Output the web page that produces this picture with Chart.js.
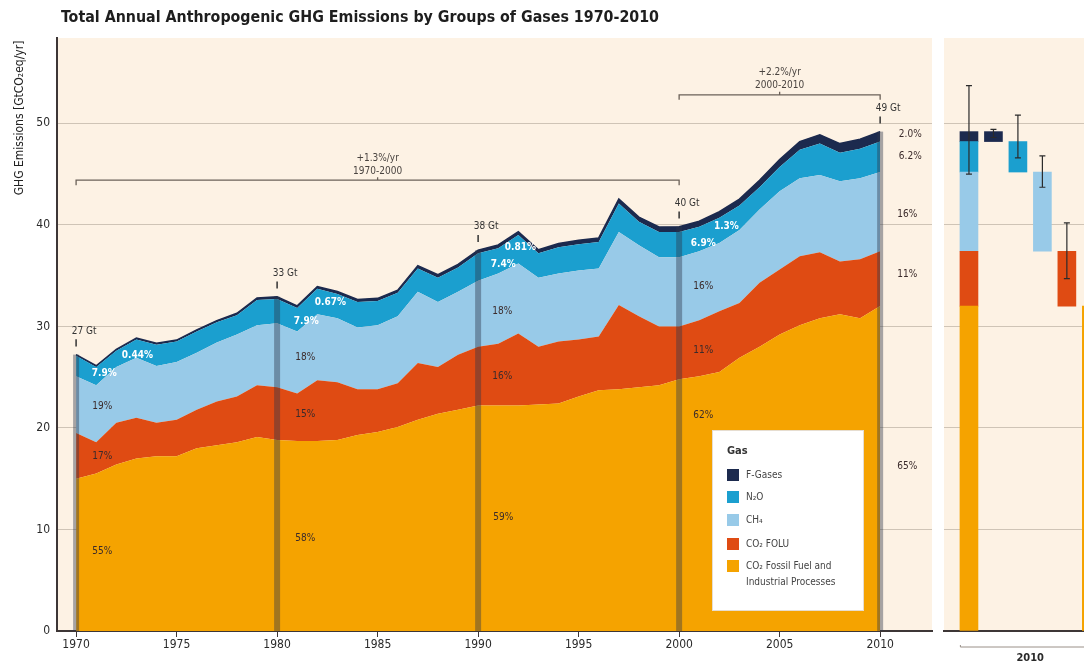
<!DOCTYPE html>
<html>
<head>
<meta charset="utf-8">
<script src="https://cdn.jsdelivr.net/npm/chart.js@4.4.1/dist/chart.umd.min.js"></script>
<style>
  body { margin: 0; background: #fff; width: 1084px; height: 665px; overflow: hidden; position: relative; }
  #main { position: absolute; left: 0; top: 0; }
  #panel { position: absolute; left: 936px; top: 0; }
</style>
</head>
<body>
<canvas id="main" width="936" height="665"></canvas>
<canvas id="panel" width="148" height="665"></canvas>
<script>
// values, GtCO2eq/yr
const years = [1970, 1971, 1972, 1973, 1974, 1975, 1976, 1977, 1978, 1979,
               1980, 1981, 1982, 1983, 1984, 1985, 1986, 1987, 1988, 1989,
               1990, 1991, 1992, 1993, 1994, 1995, 1996, 1997, 1998, 1999,
               2000, 2001, 2002, 2003, 2004, 2005, 2006, 2007, 2008, 2009, 2010];

const co2Ffi = [15.0, 15.5, 16.4, 17.0, 17.2, 17.2, 18.0, 18.3, 18.6, 19.1,
                18.8, 18.7, 18.7, 18.8, 19.3, 19.6, 20.1, 20.8, 21.4, 21.8,
                22.2, 22.2, 22.2, 22.3, 22.4, 23.1, 23.7, 23.8, 24.0, 24.2,
                24.8, 25.1, 25.5, 26.9, 28.0, 29.2, 30.1, 30.8, 31.2, 30.8, 32.0];

const co2Folu = [4.5, 3.1, 4.1, 4.0, 3.3, 3.6, 3.8, 4.3, 4.5, 5.1,
                 5.2, 4.7, 6.0, 5.7, 4.5, 4.2, 4.3, 5.6, 4.6, 5.4,
                 5.8, 6.1, 7.1, 5.7, 6.1, 5.6, 5.3, 8.3, 7.0, 5.8,
                 5.2, 5.5, 6.0, 5.4, 6.3, 6.4, 6.8, 6.5, 5.2, 5.8, 5.4];

const ch4 = [5.6, 5.6, 5.5, 5.9, 5.6, 5.7, 5.6, 5.8, 6.1, 5.9,
             6.3, 6.1, 6.5, 6.3, 6.1, 6.3, 6.6, 7.0, 6.4, 6.2,
             6.5, 6.9, 6.9, 6.8, 6.7, 6.8, 6.7, 7.2, 7.0, 6.8,
             6.8, 6.8, 6.7, 7.2, 7.2, 7.7, 7.7, 7.6, 7.9, 8.0, 7.8];

const n2o = [2.0, 1.8, 1.6, 1.8, 2.1, 2.0, 2.1, 2.0, 1.9, 2.5,
             2.4, 2.3, 2.5, 2.4, 2.5, 2.4, 2.3, 2.3, 2.4, 2.4,
             2.7, 2.5, 2.8, 2.4, 2.6, 2.6, 2.6, 2.8, 2.3, 2.5,
             2.5, 2.4, 2.5, 2.4, 2.2, 2.4, 2.8, 3.1, 2.8, 2.9, 3.0];

const fGases = [0.12, 0.12, 0.13, 0.14, 0.14, 0.15, 0.16, 0.17, 0.19, 0.20,
                0.22, 0.22, 0.23, 0.24, 0.25, 0.26, 0.27, 0.28, 0.29, 0.30,
                0.31, 0.32, 0.33, 0.34, 0.36, 0.38, 0.41, 0.44, 0.46, 0.49,
                0.52, 0.55, 0.59, 0.63, 0.68, 0.74, 0.80, 0.86, 0.90, 0.93, 0.98];

const gasNames = ['CO₂ Fossil Fuel and Industrial Processes', 'CO₂ FOLU', 'CH₄', 'N₂O', 'F-Gases'];
const gasSeries = [co2Ffi, co2Folu, ch4, n2o, fGases];
const gasColors = ['#f5a300', '#df4b13', '#98cae8', '#1b9fcf', '#1c2a4e'];

const xTickYears = [1970, 1975, 1980, 1985, 1990, 1995, 2000, 2005, 2010];
const yTickValues = [0, 10, 20, 30, 40, 50];

const markerYears = [1970, 1980, 1990, 2000, 2010];
const markerLabels = ['27 Gt', '33 Gt', '38 Gt', '40 Gt', '49 Gt'];

// share labels: text, year, value, white text
const shareLabels = [
    ['55%', 1971.3, 7.8, false], ['17%', 1971.3, 17.2, false], ['19%', 1971.3, 22.1, false],
    ['7.9%', 1971.4, 25.4, true], ['0.44%', 1973.05, 27.1, true],
    ['58%', 1981.4, 9.1, false], ['15%', 1981.4, 21.3, false], ['18%', 1981.4, 26.9, false],
    ['7.9%', 1981.45, 30.5, true], ['0.67%', 1982.65, 32.4, true],
    ['59%', 1991.25, 11.2, false], ['16%', 1991.2, 25.1, false], ['18%', 1991.2, 31.5, false],
    ['7.4%', 1991.25, 36.1, true], ['0.81%', 1992.1, 37.8, true],
    ['62%', 2001.2, 21.2, false], ['11%', 2001.2, 27.6, false], ['16%', 2001.2, 33.9, false],
    ['6.9%', 2001.2, 38.2, true], ['1.3%', 2002.35, 39.8, true],
    ['65%', 2011.35, 16.2, false], ['11%', 2011.35, 35.1, false], ['16%', 2011.35, 41.0, false],
    ['6.2%', 2011.5, 46.7, false], ['2.0%', 2011.5, 48.9, false]
];

// growth brackets: from, to, level, text lines
const growthBrackets = [
    [1970, 2000, 44.4, ['+1.3%/yr', '1970-2000']],
    [2000, 2010, 52.8, ['+2.2%/yr', '2000-2010']]
];

// right panel, 2010 uncertainty ranges (bar 1 = total, then F-Gases, N2O, CH4, FOLU, FFI)
const panelBarX = [1, 2, 3, 4, 5, 6];
const panelErrLow = [45.0, 48.6, 46.6, 43.7, 34.7, 29.4];
const panelErrHigh = [53.7, 49.4, 50.8, 46.8, 40.2, 34.6];

const FAM = "'DejaVu Sans Condensed', 'Liberation Sans Narrow', 'DejaVu Sans', sans-serif";
const CREAM = '#fdf2e4';
const GRID = '#cfc4b6';
const AXIS = '#3d3636';

function total(i) {
    let s = 0;
    for (let g = 0; g < gasSeries.length; g++) s += gasSeries[g][i];
    return s;
}

const bgPlugin = {
    id: 'bg',
    beforeDraw(chart) {
        const a = chart.chartArea;
        const ctx = chart.ctx;
        ctx.save();
        ctx.fillStyle = CREAM;
        ctx.fillRect(a.left, a.top, a.right - a.left, a.bottom - a.top);
        ctx.restore();
    }
};

const overlayPlugin = {
    id: 'overlay',
    afterDatasetsDraw(chart) {
        const ctx = chart.ctx;
        const xs = chart.scales.x;
        const ys = chart.scales.y;
        ctx.save();

        // vertical markers with totals
        for (let m = 0; m < markerYears.length; m++) {
            const i = years.indexOf(markerYears[m]);
            const t = total(i);
            const px = xs.getPixelForValue(markerYears[m]);
            const top = ys.getPixelForValue(t);
            ctx.fillStyle = 'rgba(45, 55, 75, 0.42)';
            ctx.fillRect(px - 3, top, 6, ys.getPixelForValue(0) - top);

            const t1 = ys.getPixelForValue(t + 0.8);
            const t2 = ys.getPixelForValue(t + 1.5);
            ctx.strokeStyle = '#333';
            ctx.lineWidth = 1.5;
            ctx.beginPath();
            ctx.moveTo(px, t1);
            ctx.lineTo(px, t2);
            ctx.stroke();

            ctx.fillStyle = '#333';
            ctx.font = '10px ' + FAM;
            ctx.textAlign = 'center';
            ctx.textBaseline = 'middle';
            ctx.fillText(markerLabels[m], px + 8, t2 - 8);
        }

        // share labels
        ctx.textAlign = 'center';
        ctx.textBaseline = 'middle';
        shareLabels.forEach(l => {
            ctx.font = (l[3] ? 'bold ' : '') + '10px ' + FAM;
            ctx.fillStyle = l[3] ? '#ffffff' : '#3b2b2b';
            ctx.fillText(l[0], xs.getPixelForValue(l[1]), ys.getPixelForValue(l[2]));
        });

        // growth brackets
        growthBrackets.forEach(b => {
            const x1 = xs.getPixelForValue(b[0]);
            const x2 = xs.getPixelForValue(b[1]);
            const y = ys.getPixelForValue(b[2]);
            ctx.strokeStyle = '#6b6158';
            ctx.lineWidth = 1.3;
            ctx.beginPath();
            ctx.moveTo(x1, y + 5);
            ctx.lineTo(x1, y);
            ctx.lineTo(x2, y);
            ctx.lineTo(x2, y + 5);
            ctx.moveTo((x1 + x2) / 2, y);
            ctx.lineTo((x1 + x2) / 2, y - 3);
            ctx.stroke();
            ctx.fillStyle = '#4a4440';
            ctx.font = '10px ' + FAM;
            ctx.fillText(b[3][0], (x1 + x2) / 2, y - 22);
            ctx.fillText(b[3][1], (x1 + x2) / 2, y - 9);
        });

        // legend box
        const lx = 712, ly = 430, lw = 152, lh = 181;
        ctx.fillStyle = '#ffffff';
        ctx.fillRect(lx, ly, lw, lh);
        ctx.strokeStyle = '#e6ddd0';
        ctx.lineWidth = 1;
        ctx.strokeRect(lx + 0.5, ly + 0.5, lw - 1, lh - 1);
        ctx.textAlign = 'left';
        ctx.fillStyle = '#333';
        ctx.font = 'bold 11px ' + FAM;
        ctx.fillText('Gas', lx + 15, ly + 21);
        ctx.font = '10px ' + FAM;
        const rowY = [475, 497, 520, 544, 566];
        for (let r = 0; r < gasNames.length; r++) {
            const g = gasNames.length - 1 - r;
            ctx.fillStyle = gasColors[g];
            ctx.fillRect(lx + 15, rowY[r] - 6, 12, 12);
            ctx.fillStyle = '#444';
            if (g === 0) {
                ctx.fillText('CO₂ Fossil Fuel and', lx + 34, rowY[r]);
                ctx.fillText('Industrial Processes', lx + 34, rowY[r] + 16);
            } else {
                ctx.fillText(gasNames[g], lx + 34, rowY[r]);
            }
        }
        ctx.restore();
    },
    afterDraw(chart) {
        const ctx = chart.ctx;
        ctx.save();
        // title
        const title = 'Total Annual Anthropogenic GHG Emissions by Groups of Gases 1970-2010';
        ctx.font = 'bold 16px ' + FAM;
        ctx.fillStyle = '#1e1e1e';
        ctx.textBaseline = 'middle';
        ctx.textAlign = 'left';
        const w = ctx.measureText(title).width;
        ctx.translate(61, 18);
        ctx.scale(598 / w, 1);
        ctx.fillText(title, 0, 0);
        ctx.restore();

        // y axis title
        ctx.save();
        const yt = 'GHG Emissions [GtCO₂eq/yr]';
        ctx.font = '12px ' + FAM;
        ctx.fillStyle = '#222';
        ctx.textBaseline = 'middle';
        ctx.textAlign = 'center';
        const yw = ctx.measureText(yt).width;
        ctx.translate(20, 118);
        ctx.rotate(-Math.PI / 2);
        ctx.scale(Math.min(1, 160 / yw), 1);
        ctx.fillText(yt, 0, 0);
        ctx.restore();
    }
};

const mainDatasets = gasSeries.map((s, g) => ({
    label: gasNames[g],
    data: years.map((y, i) => ({ x: y, y: s[i] })),
    backgroundColor: gasColors[g],
    borderColor: gasColors[g],
    borderWidth: g === 4 ? 1.5 : 0,
    pointRadius: 0,
    tension: 0,
    fill: g === 0 ? 'origin' : '-1'
}));

new Chart(document.getElementById('main'), {
    type: 'line',
    data: { datasets: mainDatasets },
    options: {
        responsive: false,
        animation: false,
        layout: { padding: { top: 38, right: 4, left: 0, bottom: 0 } },
        plugins: { legend: { display: false }, tooltip: { enabled: false } },
        scales: {
            x: {
                type: 'linear',
                min: 1969.05,
                max: 2012.58,
                afterBuildTicks: s => { s.ticks = xTickYears.map(v => ({ value: v })); },
                afterFit: s => { s.height = 34; },
                grid: { drawOnChartArea: false, tickLength: 6, color: AXIS },
                border: { color: AXIS, width: 2 },
                ticks: { color: '#2a2a2a', font: { family: FAM, size: 12 }, padding: 1, callback: v => String(v) }
            },
            y: {
                stacked: true,
                min: 0,
                max: 58.4,
                afterBuildTicks: s => { s.ticks = yTickValues.map(v => ({ value: v })); },
                afterFit: s => { s.width = 57; },
                grid: { color: GRID, drawTicks: false },
                border: { color: AXIS, width: 2 },
                ticks: { color: '#2a2a2a', font: { family: FAM, size: 12 }, padding: 7 }
            }
        }
    },
    plugins: [bgPlugin, overlayPlugin]
});

// right panel: 2010 breakdown
const last = years.length - 1;
const panelDatasets = gasSeries.map((s, g) => {
    let lo = 0;
    for (let k = 0; k < g; k++) lo += gasSeries[k][last];
    const hi = lo + s[last];
    return {
        label: gasNames[g],
        data: [{ x: 1, y: [lo, hi] }, { x: 6 - g, y: [lo, hi] }],
        backgroundColor: gasColors[g],
        borderWidth: 0,
        barThickness: 18,
        grouped: false
    };
});

const panelPlugin = {
    id: 'panelExtras',
    afterDatasetsDraw(chart) {
        const ctx = chart.ctx;
        const xs = chart.scales.x;
        const ys = chart.scales.y;
        ctx.save();
        ctx.strokeStyle = '#2b2b2b';
        ctx.lineWidth = 1.2;
        for (let k = 0; k < panelBarX.length; k++) {
            const px = xs.getPixelForValue(panelBarX[k]);
            const y1 = ys.getPixelForValue(panelErrLow[k]);
            const y2 = ys.getPixelForValue(panelErrHigh[k]);
            ctx.beginPath();
            ctx.moveTo(px, y1);
            ctx.lineTo(px, y2);
            ctx.moveTo(px - 3, y1);
            ctx.lineTo(px + 3, y1);
            ctx.moveTo(px - 3, y2);
            ctx.lineTo(px + 3, y2);
            ctx.stroke();
        }
        ctx.restore();
    },
    afterDraw(chart) {
        const ctx = chart.ctx;
        const a = chart.chartArea;
        ctx.save();
        const y = a.bottom + 16;
        const x1 = chart.scales.x.getPixelForValue(0.65);
        ctx.strokeStyle = '#9a9088';
        ctx.lineWidth = 1;
        ctx.beginPath();
        ctx.moveTo(x1, y - 2);
        ctx.lineTo(x1, y);
        ctx.lineTo(chart.width, y);
        ctx.stroke();
        ctx.fillStyle = '#2a2a2a';
        ctx.font = 'bold 11px ' + FAM;
        ctx.textAlign = 'center';
        ctx.textBaseline = 'middle';
        ctx.fillText('2010', chart.scales.x.getPixelForValue(3.5), a.bottom + 27);
        ctx.restore();
    }
};

new Chart(document.getElementById('panel'), {
    type: 'bar',
    data: { datasets: panelDatasets },
    options: {
        responsive: false,
        animation: false,
        layout: { padding: { top: 38, right: 0, left: 0, bottom: 0 } },
        plugins: { legend: { display: false }, tooltip: { enabled: false } },
        scales: {
            x: {
                type: 'linear',
                offset: false,
                min: -0.02,
                max: 5.7,
                afterFit: s => { s.height = 34; },
                grid: { display: false, offset: false },
                border: { color: AXIS, width: 2 },
                ticks: { display: false }
            },
            y: {
                min: 0,
                max: 58.4,
                afterBuildTicks: s => { s.ticks = yTickValues.map(v => ({ value: v })); },
                afterFit: s => { s.width = 8; },
                grid: { color: GRID, drawTicks: false },
                border: { display: false },
                ticks: { display: false }
            }
        }
    },
    plugins: [bgPlugin, panelPlugin]
});
</script>
</body>
</html>
